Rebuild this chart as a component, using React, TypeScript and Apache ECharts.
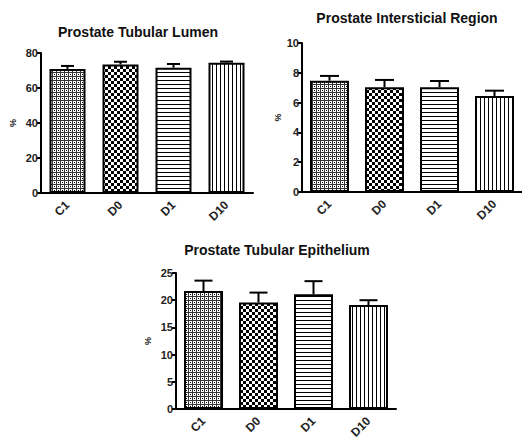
import React, { useEffect, useRef } from "react";
import * as echarts from "echarts";

const categories = ["C1", "D0", "D1", "D10"];
const lumenMean = [70.9, 73.5, 71.6, 74.5];
const lumenErr = [1.7, 1.5, 2.1, 0.6];
const interMean = [7.47, 7.03, 7.03, 6.44];
const interErr = [0.32, 0.49, 0.42, 0.36];
const epiMean = [21.7, 19.6, 21.1, 19.1];
const epiErr = [1.9, 1.8, 2.4, 0.9];
const titles = ["Prostate Tubular Lumen", "Prostate Intersticial Region", "Prostate Tubular Epithelium"];
const yMax = [80, 10, 25];
const yInterval = [20, 2, 5];

function makeTile(w: number, h: number, draw: (ctx: CanvasRenderingContext2D) => void) {
  const c = document.createElement("canvas");
  c.width = w;
  c.height = h;
  const ctx = c.getContext("2d")!;
  ctx.fillStyle = "#fff";
  ctx.fillRect(0, 0, w, h);
  ctx.fillStyle = "#000";
  draw(ctx);
  return c;
}

export default function App() {
  const ref = useRef<HTMLDivElement>(null);
  useEffect(() => {
    if (!ref.current) return;
    const chart = echarts.init(ref.current, undefined, { renderer: "svg" });

    const meshTile = makeTile(4, 4, (ctx) => {
      ctx.fillStyle = "#333";
      ctx.fillRect(0, 0, 4, 1);
      ctx.fillRect(0, 0, 1, 4);
      ctx.fillStyle = "#000";
      ctx.fillRect(2, 2, 1, 1);
    });
    const checkTile = makeTile(6, 6, (ctx) => {
      ctx.fillRect(0, 0, 3, 3);
      ctx.fillRect(3, 3, 3, 3);
    });
    const hTile = makeTile(4, 4, (ctx) => {
      ctx.fillRect(0, 0, 4, 1);
    });
    const vTile = makeTile(4, 4, (ctx) => {
      ctx.fillRect(0, 0, 1, 4);
    });
    const tiles = [meshTile, checkTile, hTile, vTile];

    const grids = [
      { left: 41, top: 53, width: 212, height: 140 },
      { left: 302, top: 43, width: 224, height: 149 },
      { left: 176, top: 273, width: 220, height: 147 },
    ];
    const means = [lumenMean, interMean, epiMean];
    const errs = [lumenErr, interErr, epiErr];
    const barWidths = [36, 39, 39];
    const capWidths = [13, 19, 18];
    const titlePos = [
      [138, 32],
      [407, 18],
      [277, 250],
    ];

    const axisLine = { lineStyle: { color: "#000", width: 2 } };
    const axisTick = { length: 4, lineStyle: { color: "#000", width: 2 } };
    const labelFont = { fontFamily: "Liberation Sans", fontWeight: "bold" as const, color: "#222", fontSize: 11 };

    const series: any[] = [];
    means.forEach((m, gi) => {
      series.push({
        type: "bar",
        xAxisIndex: gi,
        yAxisIndex: gi,
        barWidth: barWidths[gi],
        data: m.map((v, i) => ({
          value: v,
          itemStyle: {
            color: { image: tiles[i], repeat: "repeat" },
            borderColor: "#000",
            borderWidth: 2,
          },
        })),
      });
      series.push({
        type: "custom",
        xAxisIndex: gi,
        yAxisIndex: gi,
        z: 5,
        data: m.map((v, i) => [i, v, errs[gi][i]]),
        renderItem: (params: any, api: any) => {
          const x = api.value(0);
          const v = api.value(1);
          const e = api.value(2);
          const p0 = api.coord([x, v]);
          const p1 = api.coord([x, v + e]);
          const half = capWidths[gi] / 2;
          return {
            type: "group",
            children: [
              { type: "line", shape: { x1: p0[0], y1: p0[1], x2: p1[0], y2: p1[1] }, style: { stroke: "#000", lineWidth: 2 } },
              { type: "line", shape: { x1: p1[0] - half, y1: p1[1], x2: p1[0] + half, y2: p1[1] }, style: { stroke: "#000", lineWidth: 2 } },
            ],
          };
        },
      });
    });

    chart.setOption({
      animation: false,
      backgroundColor: "#fff",
      graphic: titles.map((t, i) => ({
        type: "text",
        x: titlePos[i][0],
        y: titlePos[i][1],
        style: {
          text: t,
          textAlign: "center",
          textVerticalAlign: "middle",
          font: "bold 14px 'Liberation Sans'",
          fill: "#111",
        },
      })),
      grid: grids,
      xAxis: grids.map((_, gi) => ({
        type: "category",
        gridIndex: gi,
        data: categories,
        axisLine,
        axisTick: { ...axisTick, alignWithLabel: true },
        axisLabel: { ...labelFont, fontSize: 12, rotate: 45, margin: 10 },
        splitLine: { show: false },
      })),
      yAxis: grids.map((_, gi) => ({
        type: "value",
        gridIndex: gi,
        min: 0,
        max: yMax[gi],
        interval: yInterval[gi],
        name: "%",
        nameLocation: "middle",
        nameRotate: 90,
        nameGap: gi === 1 ? 18 : 24,
        nameTextStyle: { fontFamily: "Liberation Sans", fontWeight: "bold", fontSize: 9, color: "#222" },
        axisLine: { show: true, ...axisLine },
        axisTick: { show: true, ...axisTick },
        axisLabel: { ...labelFont, margin: 3 },
        splitLine: { show: false },
      })),
      series,
    });
    return () => chart.dispose();
  }, []);
  return <div ref={ref} style={{ position: "fixed", left: 0, top: 0, width: 522, height: 441 }} />;
}
